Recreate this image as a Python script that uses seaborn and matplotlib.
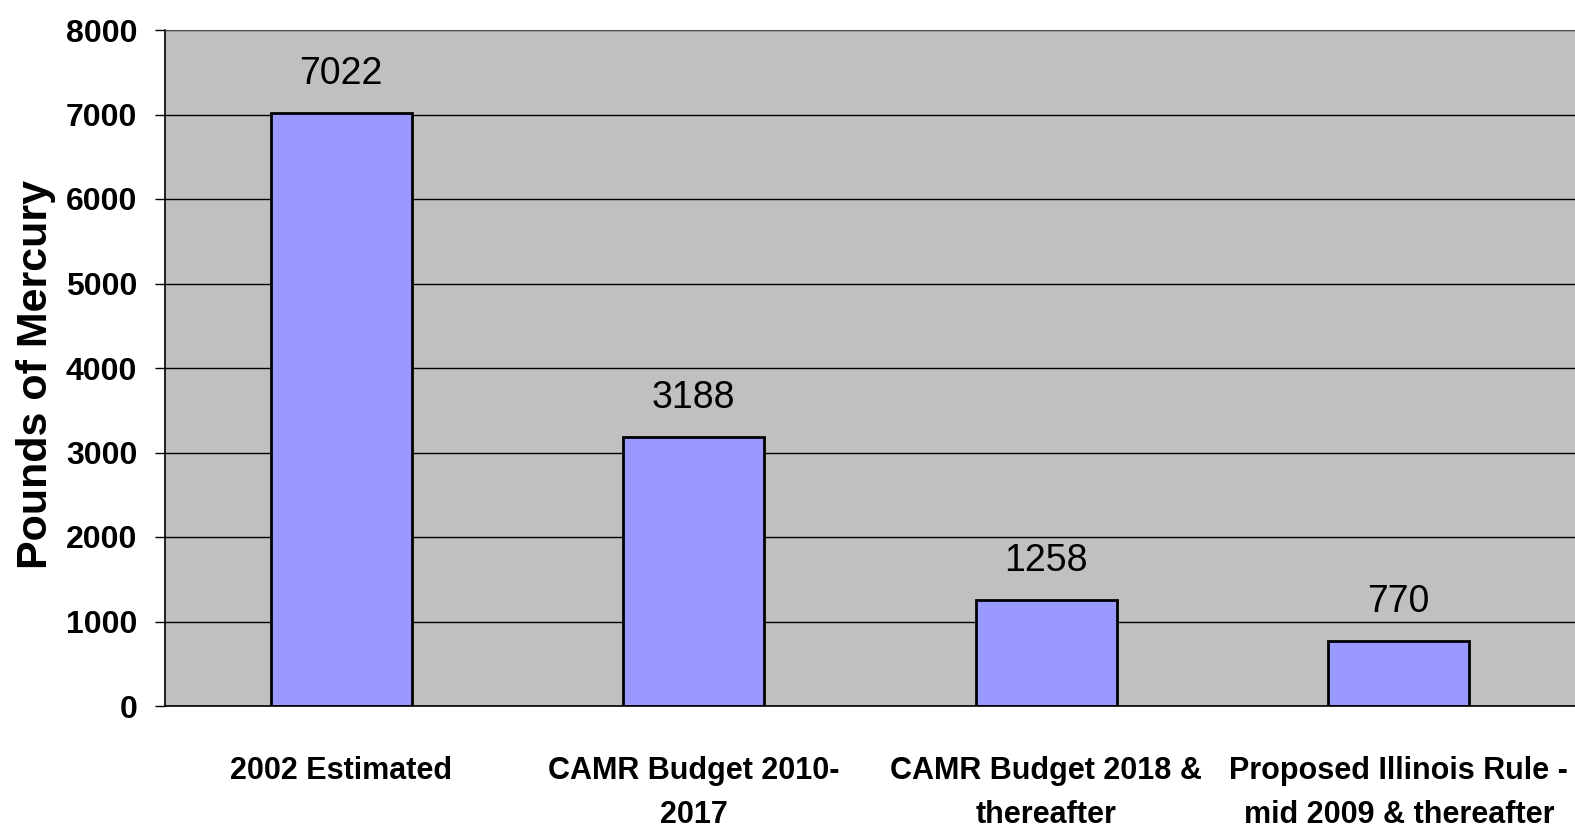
import matplotlib
matplotlib.use("Agg")
import matplotlib.pyplot as plt
import seaborn as sns
import pandas as pd

# data
categories = ["2002 Estimated", "CAMR Budget 2010-\n2017",
              "CAMR Budget 2018 &\nthereafter",
              "Proposed Illinois Rule -\nmid 2009 & thereafter"]
mercury_lbs = [7022, 3188, 1258, 770]
y_ticks = [0, 1000, 2000, 3000, 4000, 5000, 6000, 7000, 8000]

df = pd.DataFrame({"cat": categories, "val": mercury_lbs})

sns.set_style("white")
plt.rcParams["font.family"] = ["Liberation Sans", "DejaVu Sans"]
for k in ["text.color", "axes.labelcolor", "xtick.color", "ytick.color"]:
    plt.rcParams[k] = "black"

fig = plt.figure(figsize=(15.75, 8.32), dpi=100)
ax = fig.add_axes([165 / 1575, 1 - 706 / 832, 1 - 165 / 1575, 676 / 832])
ax.set_facecolor("#C0C0C0")

sns.barplot(data=df, x="cat", y="val", color="#9999FF", edgecolor="black",
            linewidth=2, width=0.4, saturation=1, ax=ax)

ax.set_xlim(-0.5, 3.5)
ax.set_ylim(0, 8000)
ax.set_yticks(y_ticks)
ax.set_yticklabels([str(t) for t in y_ticks], fontsize=23, fontweight="bold")
ax.yaxis.grid(True, color="black", linewidth=1)
ax.set_axisbelow(True)

# category labels, ticks at boundaries
ax.set_xticks(range(len(categories)))
ax.set_xticklabels(categories, fontsize=22, fontweight="bold", linespacing=1.6)
ax.set_xticks([-0.5, 0.5, 1.5, 2.5], minor=True)
ax.tick_params(axis="x", which="major", length=0, pad=36)
ax.tick_params(axis="x", which="minor", length=7, width=1, color="black")
ax.tick_params(axis="y", length=7, width=1, color="black", pad=13, left=True)

for side in ["left", "bottom"]:
    ax.spines[side].set_color("black")
    ax.spines[side].set_linewidth(1.2)
ax.spines["top"].set_color("#555555")
ax.spines["right"].set_visible(False)

ax.bar_label(ax.containers[0], labels=[str(v) for v in mercury_lbs],
             padding=15, fontsize=27)

ax.set_xlabel("")
ax.set_ylabel("Pounds of Mercury", fontsize=31, fontweight="bold")
ax.yaxis.set_label_coords(-0.077, 0.49)

fig.savefig("out.png", dpi=100)
